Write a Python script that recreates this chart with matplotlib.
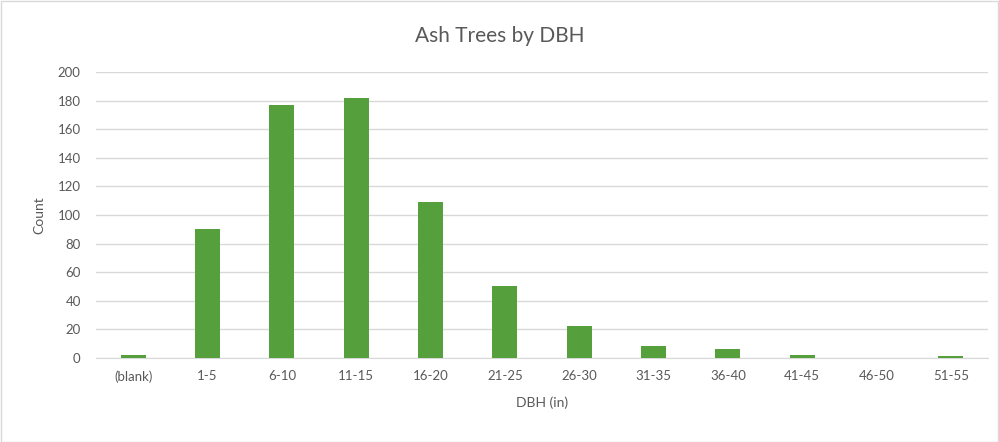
import matplotlib
matplotlib.use("Agg")
import matplotlib.pyplot as plt
from matplotlib.patches import Rectangle

categories = ["(blank)", "1-5", "6-10", "11-15", "16-20", "21-25", "26-30",
              "31-35", "36-40", "41-45", "46-50", "51-55"]
counts = [2, 90, 177, 182, 109, 50, 22, 8, 6, 2, 0, 1]
yticks = [0, 20, 40, 60, 80, 100, 120, 140, 160, 180, 200]

plt.rcParams["font.family"] = ["Lato", "DejaVu Sans"]
text_color = "#595959"

W, H = 999, 442
fig = plt.figure(figsize=(W / 100, H / 100), dpi=100)
fig.patch.set_facecolor("white")
fig.add_artist(Rectangle((0.5 / W, 0.5 / H), 1 - 1.5 / W, 1 - 1.5 / H,
                         transform=fig.transFigure, fill=False,
                         edgecolor="#d9d9d9", linewidth=1))

ax = fig.add_axes([96 / W, (H - 357.7) / H, (988 - 96) / W, (357.7 - 72.3) / H])
x = range(len(categories))
ax.bar(x, counts, width=0.34, color="#55a03c", zorder=3)
ax.set_xlim(-0.5, len(categories) - 0.5)
ax.set_ylim(0, 200)
ax.set_yticks(yticks)
ax.set_xticks(list(x))
ax.set_xticklabels(categories)
ax.grid(axis="y", color="#d9d9d9", linewidth=1, zorder=0)
for s in ax.spines.values():
    s.set_visible(False)
ax.spines["bottom"].set_visible(True)
ax.spines["bottom"].set_color("#d9d9d9")
ax.tick_params(length=0, colors=text_color, labelsize=9.5)
ax.tick_params(axis="x", pad=9)
ax.tick_params(axis="y", pad=11)

ax.set_xlabel("DBH (in)", color=text_color, fontsize=10, labelpad=10)
ax.set_ylabel("Count", color=text_color, fontsize=10, labelpad=9)
fig.text(0.5, 1 - 36 / H, "Ash Trees by DBH", ha="center", va="center",
         color=text_color, fontsize=15)

fig.savefig("out.png", dpi=100, facecolor="white")
